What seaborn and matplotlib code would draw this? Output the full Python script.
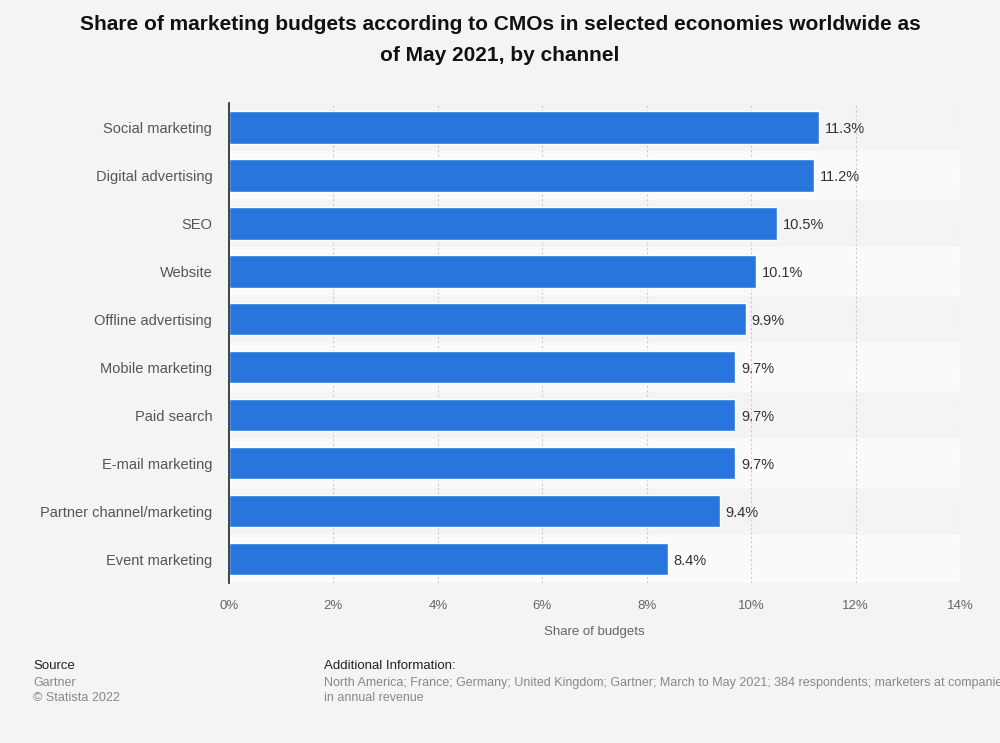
import matplotlib
matplotlib.use('Agg')
import matplotlib.pyplot as plt
import pandas as pd
import seaborn as sns

# data
channels = ['Social marketing', 'Digital advertising', 'SEO', 'Website', 'Offline advertising',
            'Mobile marketing', 'Paid search', 'E-mail marketing', 'Partner channel/marketing',
            'Event marketing']
shares = [11.3, 11.2, 10.5, 10.1, 9.9, 9.7, 9.7, 9.7, 9.4, 8.4]
xticks = [0, 2, 4, 6, 8, 10, 12, 14]

df = pd.DataFrame({'channel': channels, 'share': shares})

sns.set_theme(style='white')
plt.rcParams['font.family'] = ['Liberation Sans', 'DejaVu Sans']

fig = plt.figure(figsize=(10, 7.43), dpi=100)
fig.patch.set_facecolor('#f4f4f4')
ax = fig.add_axes([0.229, 0.2153, 0.731, 0.6457])
ax.set_facecolor('#f4f4f4')

# alternating row bands
for i in range(len(channels)):
    if i % 2 == 1:
        ax.axhspan(i - 0.5, i + 0.5, color='#fafafa', zorder=0)

sns.barplot(data=df, x='share', y='channel', color='#2876dd', saturation=1,
            width=0.68, ax=ax, zorder=3)

for i, v in enumerate(shares):
    ax.text(v + 0.11, i, f'{v}%', va='center_baseline', ha='left', fontsize=10.5,
            color='#333333', zorder=4)

ax.set_xlim(0, 14)
ax.set_ylim(len(channels) - 0.5, -0.5)
ax.set_xticks(xticks)
ax.set_xticklabels([f'{t}%' for t in xticks], color='#666666', fontsize=9.5)
ax.tick_params(axis='x', length=0, pad=12)
ax.tick_params(axis='y', length=0, pad=12, labelsize=10.5, labelcolor='#555555')
for t in xticks[1:]:
    ax.axvline(t, color='#cccccc', linestyle=(0, (2, 2)), linewidth=0.8, zorder=1)
ax.grid(False)
for s in ['top', 'right', 'bottom']:
    ax.spines[s].set_visible(False)
ax.spines['left'].set_color('#222222')
ax.spines['left'].set_linewidth(1.2)
ax.spines['left'].set_zorder(5)
ax.set_ylabel('')
ax.set_xlabel('Share of budgets', color='#666666', fontsize=9.5, labelpad=10)

title_font = dict(ha='center', va='center', fontsize=15, fontweight='bold', color='#111111')
fig.text(0.5, 0.967, 'Share of marketing budgets according to CMOs in selected economies worldwide as',
         **title_font)
fig.text(0.5, 0.925, 'of May 2021, by channel', **title_font)

fig.text(0.033, 0.103, 'Source', fontsize=9.5, color='#222222', va='center')
fig.text(0.033, 0.081, 'Gartner', fontsize=9, color='#888888', va='center')
fig.text(0.033, 0.060, '\u00a9 Statista 2022', fontsize=9, color='#888888', va='center')
fig.text(0.324, 0.103, 'Additional Information:', fontsize=9.5, color='#222222', va='center')
fig.text(0.324, 0.081,
         'North America; France; Germany; United Kingdom; Gartner; March to May 2021; 384 respondents; marketers at companies',
         fontsize=9, color='#888888', va='center')
fig.text(0.324, 0.060, 'in annual revenue', fontsize=9, color='#888888', va='center')

fig.savefig('out.png', dpi=100, facecolor=fig.get_facecolor())
